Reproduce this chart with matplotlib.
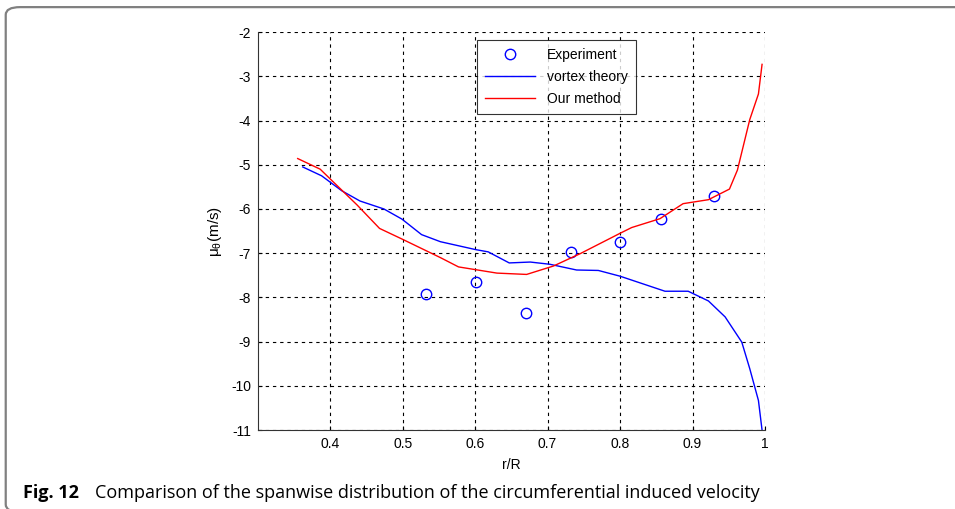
import matplotlib
matplotlib.use('Agg')
import matplotlib.pyplot as plt
from matplotlib.patches import FancyBboxPatch

plt.rcParams['font.family'] = ['Liberation Sans', 'DejaVu Sans']
plt.rcParams['mathtext.fontset'] = 'custom'
plt.rcParams['mathtext.rm'] = 'Liberation Sans'
plt.rcParams['mathtext.it'] = 'Liberation Sans'

# experimental points
exp_r = [0.532, 0.601, 0.670, 0.732, 0.800, 0.856, 0.930]
exp_u = [-7.93, -7.66, -8.36, -6.97, -6.75, -6.23, -5.70]

# vortex theory
vt_r = [0.362, 0.388, 0.416, 0.441, 0.474, 0.499, 0.526, 0.552, 0.601, 0.618,
        0.647, 0.676, 0.703, 0.740, 0.770, 0.800, 0.862, 0.894, 0.922, 0.945,
        0.968, 0.979, 0.991, 0.996]
vt_u = [-5.05, -5.25, -5.59, -5.82, -6.00, -6.23, -6.58, -6.74, -6.92, -6.97,
        -7.22, -7.20, -7.25, -7.38, -7.39, -7.52, -7.86, -7.86, -8.08, -8.44,
        -9.01, -9.61, -10.33, -11.0]

# our method
om_r = [0.355, 0.386, 0.437, 0.468, 0.499, 0.552, 0.577, 0.630, 0.671, 0.708,
        0.745, 0.800, 0.816, 0.855, 0.887, 0.922, 0.951, 0.962, 0.979, 0.991,
        0.996]
om_u = [-4.86, -5.10, -5.91, -6.44, -6.68, -7.10, -7.31, -7.45, -7.48, -7.29,
        -7.01, -6.55, -6.42, -6.22, -5.88, -5.79, -5.55, -5.12, -3.98, -3.40,
        -2.73]

xticks = [0.4, 0.5, 0.6, 0.7, 0.8, 0.9, 1]
xticklabels = ['0.4', '0.5', '0.6', '0.7', '0.8', '0.9', '1']
yticks = list(range(-11, -1))

fig = plt.figure(figsize=(9.55, 5.09), dpi=100)
ax = fig.add_axes([0.270, 0.155, 0.531, 0.782])

ax.plot(exp_r, exp_u, 'o', mfc='none', mec='#0000ff', ms=7.5, mew=1.0,
        label='Experiment')
ax.plot(vt_r, vt_u, '-', color='#0000ff', lw=1.0, label='vortex theory')
ax.plot(om_r, om_u, '-', color='#ff0000', lw=1.0, label='Our method')

ax.set_xlim(0.3, 1)
ax.set_ylim(-11, -2)
ax.set_xticks(xticks)
ax.set_xticklabels(xticklabels)
ax.set_yticks(yticks)
ax.set_yticklabels([str(v) for v in yticks])
ax.tick_params(direction='in', labelsize=10, length=3, width=0.8, pad=5)
ax.grid(True, color='black', linestyle=(0, (3, 3.5)), linewidth=0.8)
ax.spines['top'].set_visible(False)
ax.spines['right'].set_visible(False)
ax.spines['left'].set_color('#333333')
ax.spines['bottom'].set_color('#333333')
ax.set_xlabel('r/R', fontsize=10, labelpad=5)
ax.set_ylabel(r'$\mathrm{\mu_{\theta}}$(m/s)', fontsize=11, labelpad=5)

leg = ax.legend(loc='upper left', bbox_to_anchor=(0.432, 0.98), fontsize=10,
                frameon=True, fancybox=False, edgecolor='black',
                borderaxespad=0, handlelength=3.6, borderpad=0.55,
                labelspacing=0.6, handletextpad=0.9)
leg.get_frame().set_linewidth(0.8)

# frame around the figure and caption (open at the bottom and right)
fig.patches.append(FancyBboxPatch((0.006, -0.006), 1.05, 0.992,
                                  boxstyle='round,pad=0,rounding_size=0.015',
                                  transform=fig.transFigure, fill=False,
                                  edgecolor='#808080', lw=1.6))

fig.text(0.024, 0.0216, 'Fig. 12', fontsize=13, fontweight='bold',
         family='Open Sans', va='baseline')
fig.text(0.0995, 0.0216,
         'Comparison of the spanwise distribution of the circumferential induced velocity',
         fontsize=13, family='Open Sans', va='baseline')

fig.savefig('out.png', dpi=100)
